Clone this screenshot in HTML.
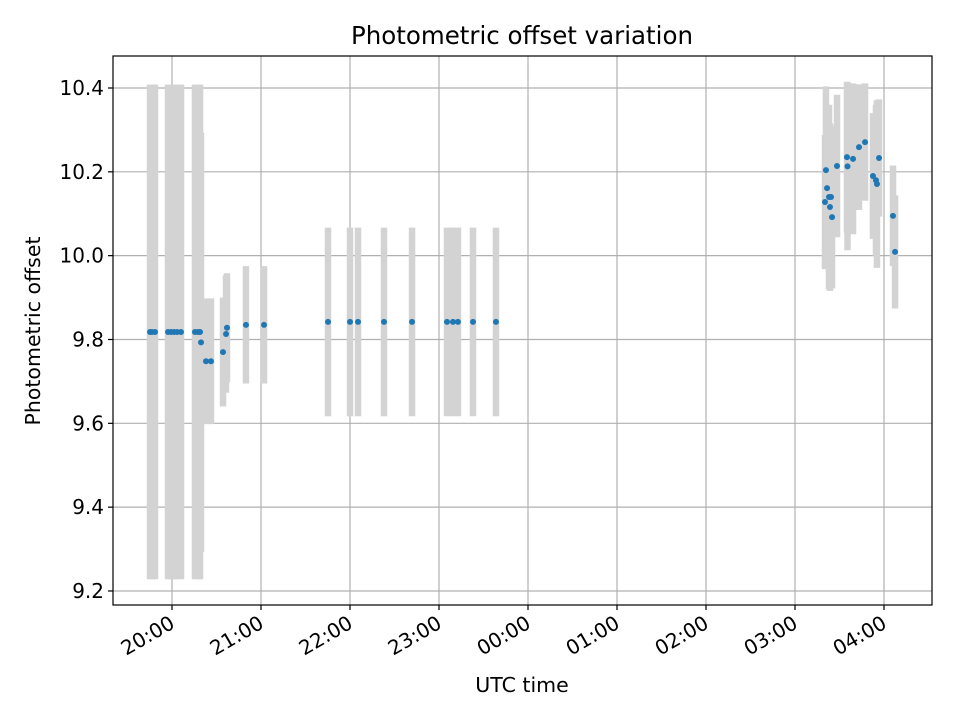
<!DOCTYPE html>
<html><head><meta charset="utf-8"><style>body{margin:0;background:#fff}svg{display:block;font-family:"DejaVu Sans","Liberation Sans",sans-serif}</style></head>
<body>
<svg id="chart" width="960" height="720">
<rect width="960" height="720" fill="#fff"/>
<text x="522" y="44" font-size="24.5" text-anchor="middle">Photometric offset variation</text>
<text x="522" y="692" font-size="20.5" text-anchor="middle">UTC time</text>
<text transform="translate(40,331) rotate(-90)" font-size="20.5" text-anchor="middle">Photometric offset</text>
<g id="grid"></g><g id="bars"></g><g id="pts"></g><g id="axes"></g>
</svg>
<script>
const times=[19.753,19.775,19.809,19.955,19.989,20.022,20.056,20.101,20.258,20.292,20.315,20.326,20.382,20.438,20.573,20.607,20.618,20.831,21.034,21.753,22.0,22.09,22.382,22.697,23.09,23.157,23.213,23.382,23.64,27.337,27.348,27.36,27.382,27.393,27.405,27.416,27.472,27.584,27.59,27.652,27.719,27.787,27.876,27.91,27.921,27.944,28.101,28.124];
const values=[9.818,9.818,9.818,9.818,9.818,9.818,9.818,9.818,9.818,9.818,9.818,9.793,9.748,9.748,9.77,9.813,9.828,9.835,9.835,9.842,9.842,9.842,9.842,9.842,9.842,9.842,9.842,9.842,9.842,10.128,10.204,10.161,10.14,10.116,10.14,10.092,10.214,10.235,10.213,10.231,10.259,10.271,10.19,10.18,10.171,10.233,10.095,10.009];
const errors=[0.59,0.59,0.59,0.59,0.59,0.59,0.59,0.59,0.59,0.59,0.59,0.5,0.15,0.15,0.13,0.14,0.13,0.14,0.14,0.225,0.225,0.225,0.225,0.225,0.225,0.225,0.225,0.225,0.225,0.16,0.2,0.19,0.22,0.2,0.17,0.17,0.17,0.18,0.2,0.18,0.15,0.14,0.15,0.18,0.2,0.14,0.12,0.135];
const yTicks=[9.2,9.4,9.6,9.8,10.0,10.2,10.4];
const xTicks=[20,21,22,23,24,25,26,27,28];
const xTickLabels=["20:00","21:00","22:00","23:00","00:00","01:00","02:00","03:00","04:00"];
const L=113,R=932,T=56,B=605;
const xs=h=>172+(h-20)*89;
const ys=v=>88+(10.4-v)/0.2*83.83;
const NS="http://www.w3.org/2000/svg";
function mk(tag,attrs,parent){const e=document.createElementNS(NS,tag);for(const k in attrs)e.setAttribute(k,attrs[k]);document.getElementById(parent).appendChild(e);return e;}
yTicks.forEach((v,i)=>{const y=ys(v);
const g=mk('line',{x1:L,x2:R,y1:y,y2:y,stroke:'#b0b0b0','stroke-width':1.2},'grid');


mk('line',{x1:L-5,x2:L,y1:y,y2:y,stroke:'#000','stroke-width':1.2},'axes');
const t=mk('text',{x:L-9,y:y+7,'font-size':20,'text-anchor':'end'},'axes');t.textContent=v.toFixed(1);

});
xTicks.forEach((h,i)=>{const x=xs(h);
const g=mk('line',{x1:x,x2:x,y1:T,y2:B,stroke:'#b0b0b0','stroke-width':1.2},'grid');


mk('line',{x1:x,x2:x,y1:B,y2:B+5,stroke:'#000','stroke-width':1.2},'axes');
const t=mk('text',{x:0,y:0,'font-size':20,'text-anchor':'end',transform:`translate(${x+4},${B+22}) rotate(-30)`},'axes');t.textContent=xTickLabels[i];

});
times.forEach((h,i)=>{const x=xs(h);
const b=mk('line',{x1:x,x2:x,y1:ys(values[i]+errors[i]),y2:ys(values[i]-errors[i]),stroke:'#d3d3d3','stroke-width':6.5},'bars');


const c=mk('circle',{cx:x,cy:ys(values[i]),r:3,fill:'#1f77b4'},'pts');

});
const f=mk('rect',{x:L,y:T,width:R-L,height:B-T,fill:'none',stroke:'#000','stroke-width':1.2},'axes');


</script>
</body></html>
